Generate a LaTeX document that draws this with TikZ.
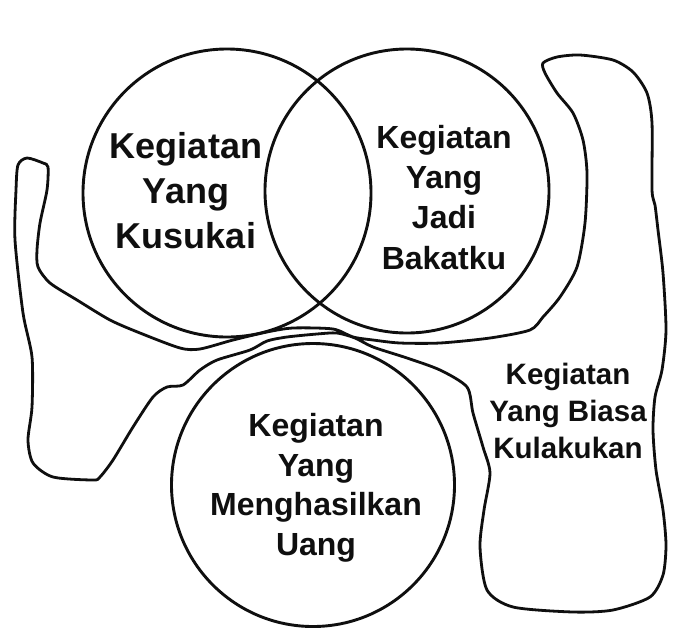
\documentclass[tikz,border=0pt]{standalone}
\usepackage{fontspec}
\setmainfont{Liberation Sans}
\usepackage{tikz}
\usetikzlibrary{positioning}
\definecolor{tinta}{RGB}{15, 15, 15}
\tikzset{
    lingkaran/.style={draw=tinta, circle, line width=2.9pt, inner sep=0pt},
    tulisan/.style={text=tinta, align=center, anchor=north, inner sep=0pt, font=\bfseries},
    batas/.style={draw=tinta, line width=2.8pt, line join=round},
}

\begin{document}
\begin{tikzpicture}[x=1pt, y=-1pt]
    \useasboundingbox[fill=white] (0,0) rectangle (680,641);

    % tiga lingkaran
    \node[lingkaran, minimum size=288pt] (suka) at (227,193) {};
    \node[lingkaran, minimum size=284pt] (bakat) at (407,191) {};
    \node[lingkaran, minimum size=283pt] (uang) at (313,485) {};

    % garis bebas yang mengelilingi
    \draw[batas] plot[smooth cycle, tension=0.45] coordinates {
        (543,63) (557,57) (580,55) (613,60) (633,72) (647,93) (652,123)
        (652,190) (655,205) (658,230) (663,273) (666,330) (662,370)
        (655,397) (653,430) (656,470) (663,510) (666,545) (663,575)
        (650,597) (613,610) (573,612) (513,607) (487,590) (480,547)
        (484,510) (490,473) (483,447) (473,413) (467,387) (440,370)
        (407,358) (373,347) (355,338) (337,333) (317,334) (287,337)
        (267,341) (250,350) (217,360) (200,370) (183,385) (167,387)
        (153,397) (133,427) (113,460) (100,477) (93,480) (53,477)
        (33,463) (28,440) (32,407) (32,357) (23,313) (15,240) (16,190)
        (18,165) (27,158) (43,163) (48,167) (47,190) (40,223) (37,250)
        (38,267) (50,283) (77,300) (110,320) (140,333) (180,348)
        (200,349) (233,340) (267,332) (293,328) (333,329) (353,337)
        (373,340) (400,343) (440,343) (490,338) (530,330) (543,317)
        (560,297) (577,267) (585,223) (587,173) (583,140) (573,113)
        (557,93) (545,73)};

    % label
    \node[tulisan, font=\bfseries\fontsize{36}{45}\selectfont] (tsuka) at (186,132)
        {Kegiatan\\Yang\\Kusukai};
    \node[tulisan, font=\bfseries\fontsize{32}{40.3}\selectfont] (tbakat) at (444,125)
        {Kegiatan\\Yang\\Jadi\\Bakatku};
    \node[tulisan, font=\bfseries\fontsize{32}{39.7}\selectfont] (tuang) at (316,413)
        {Kegiatan\\Yang\\Menghasilkan\\Uang};
    \node[tulisan, font=\bfseries\fontsize{29.5}{37}\selectfont] (tbiasa) at (568,363)
        {Kegiatan\\Yang Biasa\\Kulakukan};
\end{tikzpicture}
\end{document}
